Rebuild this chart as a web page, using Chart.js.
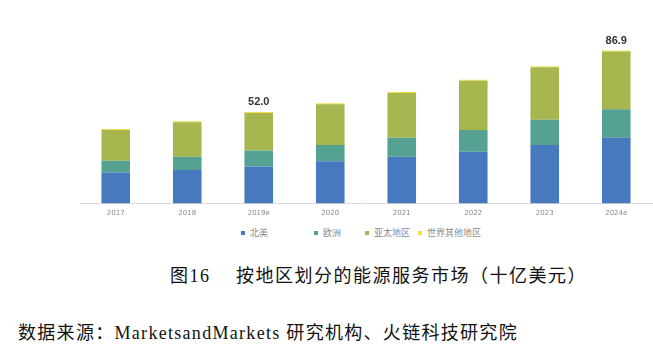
<!DOCTYPE html>
<html lang="zh">
<head>
<meta charset="UTF-8">
<title>按地区划分的能源服务市场</title>
<script src="https://cdn.jsdelivr.net/npm/chart.js@4"></script>
<style>
  body { margin: 0; background: #fff; width: 653px; height: 348px; overflow: hidden; position: relative; }
  #wrap { position: absolute; left: 0; top: 0; width: 653px; height: 222px; }
  .cap { position: absolute; white-space: nowrap; color: #111; line-height: 1;
         font-family: "Liberation Serif", "Noto Sans CJK SC", serif; }
  #title { left: 170px; top: 267px; font-size: 18px; letter-spacing: 1.5px; }
  #src { left: 18px; top: 324px; font-size: 18px; letter-spacing: 1.3px; }
  .leg { position: absolute; top: 226px; height: 12px; line-height: 12px; white-space: nowrap;
         font: 9px "Noto Sans CJK SC", sans-serif; color: #8a8a8a; }
  .leg i { display: inline-block; width: 4px; height: 4px; margin-right: 5px; vertical-align: 1px; }
</style>
</head>
<body>
<div id="wrap"><canvas id="chart"></canvas></div>
<div id="legend"></div>
<div class="cap" id="title">图16　 按地区划分的能源服务市场（十亿美元）</div>
<div class="cap" id="src">数据来源：MarketsandMarkets 研究机构、火链科技研究院</div>
<script>
const years = ["2017", "2018", "2019e", "2020", "2021", "2022", "2023", "2024e"];
const northAmerica = [17.7, 19.0, 21.0, 24.1, 26.6, 29.4, 33.3, 37.3];
const europe = [6.6, 7.6, 9.1, 9.1, 10.8, 12.4, 14.3, 16.2];
const asiaPacific = [17.5, 19.6, 21.3, 23.2, 25.3, 27.9, 29.8, 32.8];
const restOfWorld = [0.6, 0.6, 0.6, 0.6, 0.6, 0.6, 0.6, 0.6];
const totalLabels = ["", "", "52.0", "", "", "", "", "86.9"];

// write the total above selected bars
const totalsPlugin = {
  id: "totals",
  afterDatasetsDraw(chart) {
    const ctx = chart.ctx;
    const meta = chart.getDatasetMeta(chart.data.datasets.length - 1);
    ctx.save();
    ctx.font = "bold 11px 'Liberation Sans', sans-serif";
    ctx.fillStyle = "#333";
    ctx.textAlign = "center";
    ctx.textBaseline = "bottom";
    meta.data.forEach((bar, i) => {
      if (totalLabels[i]) ctx.fillText(totalLabels[i], bar.x, bar.y - 4);
    });
    ctx.restore();
  }
};

const chart = new Chart(document.getElementById("chart"), {
  type: "bar",
  data: {
    labels: years,
    datasets: [
      { label: "北美", data: northAmerica, backgroundColor: "#4679bd" },
      { label: "欧洲", data: europe, backgroundColor: "#55a292" },
      { label: "亚太地区", data: asiaPacific, backgroundColor: "#a8b650" },
      { label: "世界其他地区", data: restOfWorld, backgroundColor: "#f3df4d" }
    ]
  },
  options: {
    responsive: true,
    maintainAspectRatio: false,
    animation: false,
    layout: { padding: { left: 80, right: 1, top: 45, bottom: 0 } },
    datasets: { bar: { barPercentage: 0.4, categoryPercentage: 1 } },
    scales: {
      x: {
        stacked: true,
        grid: { display: false, drawTicks: false },
        border: { color: "#dcdcdc" },
        ticks: { color: "#888", font: { size: 7, family: "'DejaVu Sans', sans-serif" }, padding: 5 }
      },
      y: { stacked: true, display: false, min: 0, max: 90 }
    },
    plugins: {
      legend: { display: false },
      tooltip: { enabled: false }
    }
  },
  plugins: [totalsPlugin]
});

// legend row under the axis, spaced like the original
const legendX = [241, 314, 365, 418];
const legendBox = document.getElementById("legend");
chart.data.datasets.forEach((ds, i) => {
  const item = document.createElement("div");
  item.className = "leg";
  item.style.left = legendX[i] + "px";
  item.innerHTML = '<i style="background:' + ds.backgroundColor + '"></i>' + ds.label;
  legendBox.appendChild(item);
});
</script>
</body>
</html>
